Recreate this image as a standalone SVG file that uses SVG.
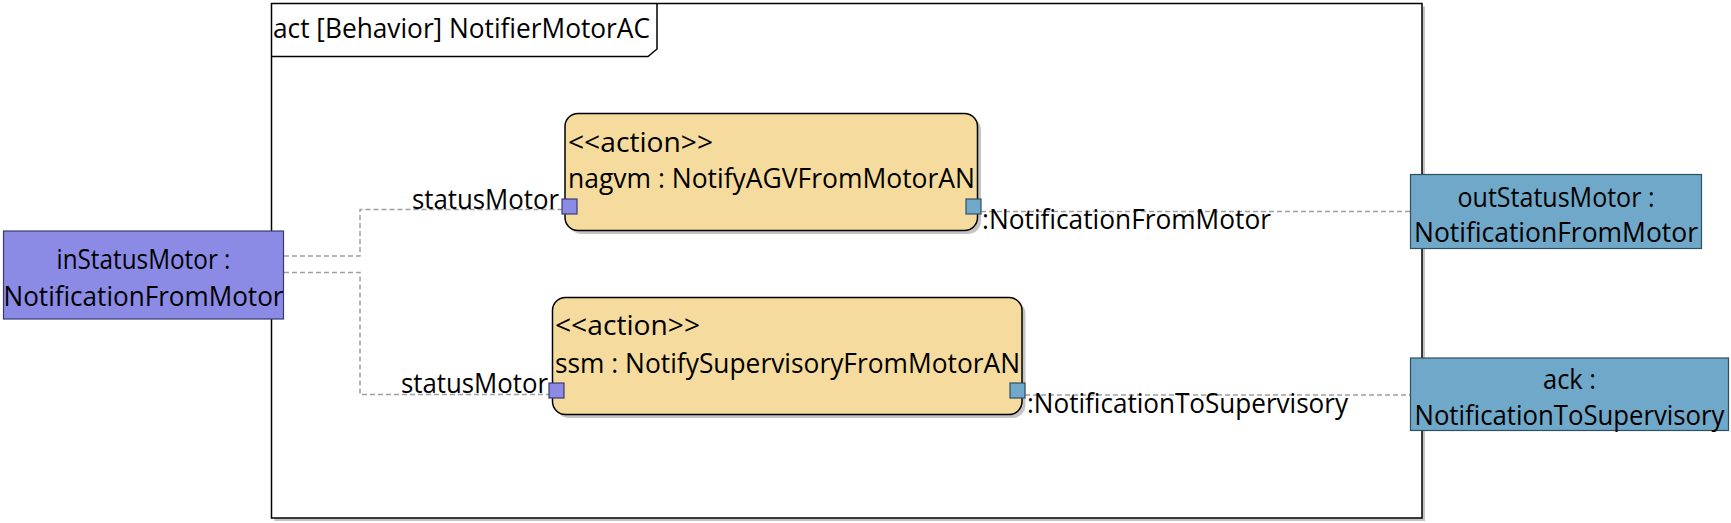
<svg xmlns="http://www.w3.org/2000/svg" width="1731" height="523" viewBox="0 0 1731 523">
<style>
text{font-family:"Open Sans","Noto Sans","DejaVu Sans",sans-serif;font-size:27px;fill:#000}
.c{text-anchor:middle}
.e{text-anchor:end}
.conn{fill:none;stroke:#a0a0a0;stroke-width:1.5;stroke-dasharray:5 3}
.act{fill:#f5dc9e;stroke:#000;stroke-width:1.5}
.shadow{fill:#c4c4c4}
.pin{fill:#8b8be6;stroke:#3a3a6e;stroke-width:1.2}
.pout{fill:#6fa8c8;stroke:#2f4f62;stroke-width:1.2}
.bin{fill:#8b8be6;stroke:#3a3a6e;stroke-width:1.2}
.bout{fill:#6fa8c8;stroke:#2f4f62;stroke-width:1.2}
</style>
<rect width="1731" height="523" fill="#fff"/>
<g id="frame">
<rect class="shadow" x="274.5" y="6.5" width="1150.5" height="514.5"/>
<rect x="271.5" y="3.5" width="1150.5" height="514.5" fill="#fff" stroke="#000" stroke-width="1.5"/>
<path d="M271.5,56.5 H648 L657,49 V3.5" fill="none" stroke="#000" stroke-width="1.5"/>
<text x="273" y="38" textLength="377" lengthAdjust="spacingAndGlyphs">act [Behavior] NotifierMotorAC</text>
</g>
<g id="connectors">
<path class="conn" d="M284,256 H360 V209.5 H562"/>
<path class="conn" d="M284,272.5 H360 V394.5 H549"/>
<path class="conn" d="M981,211.5 H1410"/>
<path class="conn" d="M1025,395 H1410"/>
<text class="e" x="559" y="209" textLength="147" lengthAdjust="spacingAndGlyphs">statusMotor</text>
<text class="e" x="548" y="393" textLength="147" lengthAdjust="spacingAndGlyphs">statusMotor</text>
<text x="982" y="229" textLength="289" lengthAdjust="spacingAndGlyphs">:NotificationFromMotor</text>
<text x="1027" y="413" textLength="321" lengthAdjust="spacingAndGlyphs">:NotificationToSupervisory</text>
</g>
<g id="inStatusMotor">
<rect class="bin" x="3.5" y="231" width="280" height="88"/>
<text class="c" x="143.5" y="269" textLength="174" lengthAdjust="spacingAndGlyphs">inStatusMotor :</text>
<text class="c" x="143.5" y="306" textLength="280" lengthAdjust="spacingAndGlyphs">NotificationFromMotor</text>
</g>
<g id="nagvm">
<rect class="shadow" x="568.5" y="117" width="412.5" height="117" rx="13"/>
<rect class="act" x="565" y="113.5" width="412.5" height="117" rx="13"/>
<text x="568" y="151.5" textLength="145" lengthAdjust="spacingAndGlyphs">&lt;&lt;action&gt;&gt;</text>
<text x="568" y="188" textLength="407" lengthAdjust="spacingAndGlyphs">nagvm : NotifyAGVFromMotorAN</text>
<rect class="pin" x="562" y="199" width="15" height="15"/>
<rect class="pout" x="966" y="199" width="15" height="15"/>
</g>
<g id="ssm">
<rect class="shadow" x="556" y="301" width="469.5" height="117" rx="13"/>
<rect class="act" x="552.5" y="297.5" width="469.5" height="117" rx="13"/>
<text x="555" y="335" textLength="145" lengthAdjust="spacingAndGlyphs">&lt;&lt;action&gt;&gt;</text>
<text x="555" y="372.5" textLength="465" lengthAdjust="spacingAndGlyphs">ssm : NotifySupervisoryFromMotorAN</text>
<rect class="pin" x="549" y="383" width="15" height="15"/>
<rect class="pout" x="1010" y="383" width="15" height="15"/>
</g>
<g id="outStatusMotor">
<rect class="bout" x="1410.5" y="174.5" width="291" height="74"/>
<text class="c" x="1556" y="207" textLength="197" lengthAdjust="spacingAndGlyphs">outStatusMotor :</text>
<text class="c" x="1556" y="242" textLength="284" lengthAdjust="spacingAndGlyphs">NotificationFromMotor</text>
</g>
<g id="ack">
<rect class="bout" x="1410.5" y="358" width="318" height="72.5"/>
<text class="c" x="1569.5" y="389" textLength="53" lengthAdjust="spacingAndGlyphs">ack :</text>
<text class="c" x="1569.5" y="425" textLength="310" lengthAdjust="spacingAndGlyphs">NotificationToSupervisory</text>
</g>
</svg>
